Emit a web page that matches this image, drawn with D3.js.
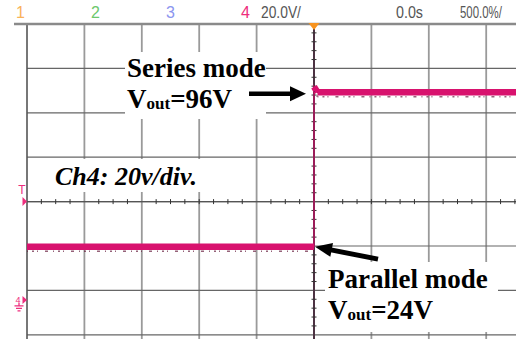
<!DOCTYPE html>
<html>
<head>
<meta charset="utf-8">
<script src="https://cdn.jsdelivr.net/npm/d3@7"></script>
<style>
  body { margin: 0; background: #fff; }
  svg { display: block; }
</style>
</head>
<body>
<div id="scope"></div>
<script>

// scope settings
var channelLabels = ["1", "2", "3", "4"];
var channelColors = ["#f9b35a", "#6cc86c", "#8b95ef", "#ee2d7d"];
var statusLabels = ["20.0V/", "0.0s", "500.0%/"];

var voltsPerDiv = 20;      // ch4
var centerVolts = 44.3;    // volts at the centre line (ground sits 2.2 div below)
var msPerDiv = 0.5;
var triggerMs = 0;

// ch4 trace: parallel mode before the trigger, series mode after
var timeMs = [-2.5, 0, 0, 0.03, 2.5];
var ch4Volts = [24, 24, 96, 93.6, 93.6];

// annotation texts
var notes = [
    { lines: ["Series mode", ["V", "out", "=96V"]], x: 127, y: 77 },
    { lines: ["Parallel mode", ["V", "out", "=24V"]], x: 328, y: 288 }
];
var scaleNote = "Ch4: 20v/div.";

var W = 516, H = 339;
var grid = { left: 27, top: 24, divW: 57.4, divH: 44.4, nx: 10, ny: 8 };

var svg = d3.select("#scope")
    .append("svg")
        .attr("width", W)
        .attr("height", H);

var xScale = d3.scaleLinear()
    .domain([triggerMs - msPerDiv * grid.nx / 2, triggerMs + msPerDiv * grid.nx / 2])
    .range([grid.left, grid.left + grid.divW * grid.nx]);

var yScale = d3.scaleLinear()
    .domain([centerVolts - voltsPerDiv * grid.ny / 2, centerVolts + voltsPerDiv * grid.ny / 2])
    .range([grid.top + grid.divH * grid.ny, grid.top]);

var xCenter = xScale(triggerMs);
var yCenter = yScale(centerVolts);

//status bar
svg.selectAll(".chan")
    .data(channelLabels)
    .enter()
    .append("text")
        .attr("class", "chan")
        .attr("x", function (d, i) { return 16 + i * 75; })
        .attr("y", 18)
        .attr("fill", function (d, i) { return channelColors[i]; })
        .style("font-family", "Liberation Sans, Arial, sans-serif")
        .style("font-size", "16px")
        .text(function (d) { return d; });

// narrow scope font: squeeze each label to its width on screen
var statusX = [261, 396, 460], statusW = [40, 27, 42];
svg.selectAll(".status")
    .data(statusLabels)
    .enter()
    .append("text")
        .attr("class", "status")
        .attr("fill", "#555")
        .style("font-family", "Liberation Sans, Arial, sans-serif")
        .style("font-size", "16px")
        .text(function (d) { return d; })
        .attr("transform", function (d, i) {
            var natural = this.getComputedTextLength();
            return "translate(" + statusX[i] + ",18) scale(" + (statusW[i] / natural) + ",1)";
        });

//graticule
var vLines = d3.range(1, grid.nx + 1).map(function (i) { return grid.left + i * grid.divW; });
var hLines = d3.range(1, grid.ny + 1).map(function (j) { return grid.top + j * grid.divH; });

svg.append("g")
    .selectAll("line")
    .data(vLines)
    .enter()
    .append("line")
        .attr("x1", function (d) { return d; })
        .attr("x2", function (d) { return d; })
        .attr("y1", grid.top)
        .attr("y2", H)
        .attr("stroke", "#9a9a9a")
        .attr("stroke-width", 1.8);

svg.append("g")
    .selectAll("line")
    .data(hLines)
    .enter()
    .append("line")
        .attr("x1", grid.left)
        .attr("x2", W)
        .attr("y1", function (d) { return d; })
        .attr("y2", function (d) { return d; })
        .attr("stroke", "#666")
        .attr("stroke-width", 1.2);

svg.append("line")
    .attr("x1", grid.left).attr("x2", grid.left)
    .attr("y1", grid.top).attr("y2", H)
    .attr("stroke", "#555").attr("stroke-width", 1.6);

svg.append("line")
    .attr("x1", 14).attr("x2", W)
    .attr("y1", grid.top).attr("y2", grid.top)
    .attr("stroke", "#8a8a8a").attr("stroke-width", 2.4);

// white boxes behind the annotations
var boxes = [
    { x: 125, y: 52, w: 141, h: 67 },
    { x: 45, y: 159, w: 163, h: 33 },
    { x: 325, y: 262, w: 173, h: 70 }
];
svg.append("g")
    .selectAll("rect")
    .data(boxes)
    .enter()
    .append("rect")
        .attr("x", function (d) { return d.x; })
        .attr("y", function (d) { return d.y; })
        .attr("width", function (d) { return d.w; })
        .attr("height", function (d) { return d.h; })
        .attr("fill", "#fff");

//centre axes with minor ticks
svg.append("line")
    .attr("x1", grid.left).attr("x2", W)
    .attr("y1", yCenter).attr("y2", yCenter)
    .attr("stroke", "#555").attr("stroke-width", 1.2);

var xTicks = d3.range(1, grid.nx * 4).map(function (k) { return grid.left + k * grid.divW / 4; })
    .filter(function (x) { return x < W && Math.abs((x - grid.left) % grid.divW) > 1; });
svg.append("g")
    .selectAll("line")
    .data(xTicks)
    .enter()
    .append("line")
        .attr("x1", function (d) { return d; })
        .attr("x2", function (d) { return d; })
        .attr("y1", yCenter - 2.5)
        .attr("y2", yCenter + 2.5)
        .attr("stroke", "#333")
        .attr("stroke-width", 1);

svg.append("line")
    .attr("x1", xCenter).attr("x2", xCenter)
    .attr("y1", grid.top).attr("y2", H)
    .attr("stroke", "#4d3343").attr("stroke-width", 2);

var yTicks = d3.range(1, grid.ny * 5).map(function (k) { return grid.top + k * grid.divH / 5; })
    .filter(function (y) {
        var r = Math.abs((y - grid.top) % grid.divH);
        return r > 1 && r < grid.divH - 1;
    });
svg.append("g")
    .selectAll("line")
    .data(yTicks)
    .enter()
    .append("line")
        .attr("x1", xCenter - 2.5)
        .attr("x2", xCenter + 2.5)
        .attr("y1", function (d) { return d; })
        .attr("y2", function (d) { return d; })
        .attr("stroke", "#333")
        .attr("stroke-width", 1);

//ch4 trace
var trace = timeMs.map(function (t, i) { return { t: t, v: ch4Volts[i] }; });
var line = d3.line()
    .x(function (d) { return xScale(d.t); })
    .y(function (d) { return yScale(d.v); });

svg.append("path")
    .datum(trace)
    .attr("d", line)
    .attr("fill", "none")
    .attr("stroke", "#b01860")
    .attr("stroke-width", 1.6);

// flat runs are drawn thick (noise band)
var runs = d3.pairs(trace).filter(function (p) { return p[1].t > p[0].t; });
svg.append("g")
    .selectAll("path")
    .data(runs)
    .enter()
    .append("path")
        .attr("d", line)
        .attr("fill", "none")
        .attr("stroke", "#d8126e")
        .attr("stroke-width", 6.5);

svg.append("g")
    .selectAll("path")
    .data(runs)
    .enter()
    .append("path")
        .attr("d", line)
        .attr("transform", "translate(0,4.5)")
        .attr("fill", "none")
        .attr("stroke", "#6a2040")
        .attr("stroke-width", 1.5)
        .attr("stroke-dasharray", "1,4,2,3,1,7,3,5")
        .attr("opacity", 0.7);

//trigger marker and ground / level markers
svg.append("path")
    .attr("d", d3.line()([[xCenter - 5.5, grid.top - 1], [xCenter + 5.5, grid.top - 1], [xCenter, grid.top + 6]]) + "Z")
    .attr("fill", "#f7931e");

var g0 = yScale(0);
var mark = "#ee2d7d";
svg.append("text")
    .attr("x", 22).attr("y", 194)
    .attr("text-anchor", "middle")
    .attr("fill", mark)
    .style("font-family", "Liberation Sans, Arial, sans-serif")
    .style("font-size", "12px")
    .text("T");
svg.append("path")
    .attr("d", d3.line()([[22.5, yCenter - 4.5], [27, yCenter], [22.5, yCenter + 4.5]]) + "Z")
    .attr("fill", mark);
svg.append("path")
    .attr("d", d3.line()([[22.5, g0 - 4], [27, g0], [22.5, g0 + 4]]) + "Z")
    .attr("fill", mark);
svg.append("text")
    .attr("x", 18).attr("y", g0 + 3)
    .attr("text-anchor", "middle")
    .attr("fill", mark)
    .style("font-family", "Liberation Sans, Arial, sans-serif")
    .style("font-size", "9px")
    .text("4");
svg.append("path")
    .attr("d", "M19," + (g0 + 3) + "V" + (g0 + 6) + "M14.5," + (g0 + 6) + "H23.5M16," + (g0 + 8.5) + "H22M17.5," + (g0 + 11) + "H20.5")
    .attr("stroke", mark)
    .attr("stroke-width", 1.3)
    .attr("fill", "none");

//annotations
var serif = "Liberation Serif, Times New Roman, serif";
notes.forEach(function (n) {
    var t = svg.append("text")
        .attr("x", n.x)
        .attr("y", n.y)
        .attr("fill", "#000")
        .style("font-family", serif)
        .style("font-weight", "bold")
        .style("font-size", "27px");
    t.append("tspan").attr("x", n.x).text(n.lines[0]);
    var l2 = t.append("tspan").attr("x", n.x).attr("dy", 31);
    l2.append("tspan").text(n.lines[1][0]);
    l2.append("tspan").attr("dy", 1).style("font-size", "17px").text(n.lines[1][1]);
    l2.append("tspan").attr("dy", -1).text(n.lines[1][2]);
});

svg.append("text")
    .attr("x", 55)
    .attr("y", 185)
    .style("font-family", serif)
    .style("font-weight", "bold")
    .style("font-style", "italic")
    .style("font-size", "26px")
    .text(scaleNote);

// arrows pointing at the two levels
function arrow(tail, tip, shaft, headLen, headHalf) {
    var dx = tip[0] - tail[0], dy = tip[1] - tail[1];
    var len = Math.sqrt(dx * dx + dy * dy);
    var ux = dx / len, uy = dy / len;
    var bx = tip[0] - ux * headLen, by = tip[1] - uy * headLen;
    svg.append("line")
        .attr("x1", tail[0]).attr("y1", tail[1])
        .attr("x2", bx + ux * 2).attr("y2", by + uy * 2)
        .attr("stroke", "#000").attr("stroke-width", shaft);
    svg.append("path")
        .attr("d", d3.line()([tip, [bx - uy * headHalf, by + ux * headHalf], [bx + uy * headHalf, by - ux * headHalf]]) + "Z")
        .attr("fill", "#000");
}

var ySeries = yScale(ch4Volts[ch4Volts.length - 1]);
var yParallel = yScale(ch4Volts[0]);
arrow([249, ySeries + 1.5], [xCenter - 8, ySeries + 1.5], 4.5, 16, 7.5);
arrow([378, yParallel + 12.5], [xCenter + 1, yParallel], 5, 17, 7);

</script>
</body>
</html>
